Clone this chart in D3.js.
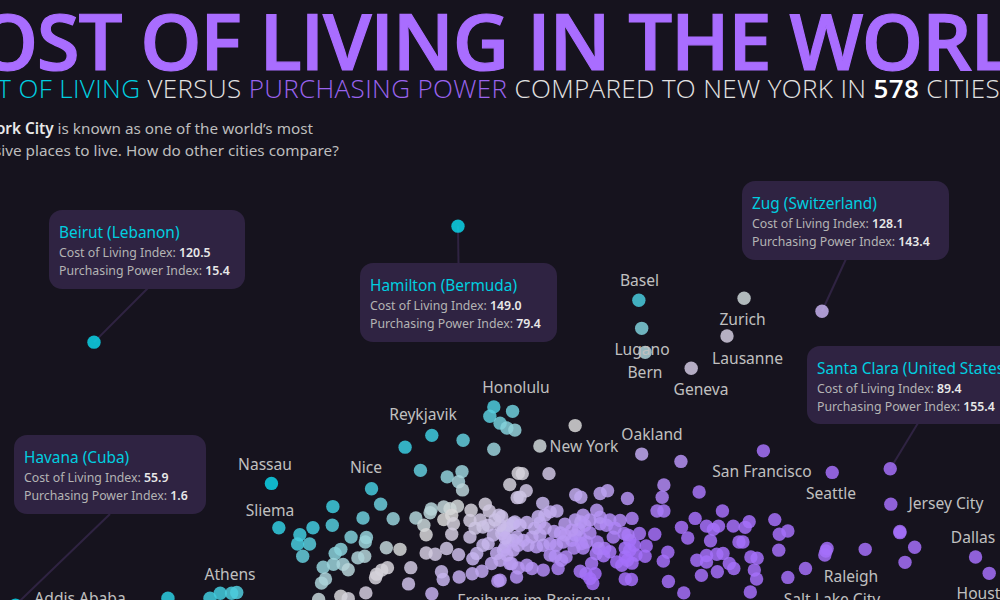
<!DOCTYPE html>
<html><head><meta charset="utf-8">
<script src="https://d3js.org/d3.v7.min.js"></script>
<style>html,body{margin:0;padding:0;background:#16131e;overflow:hidden}svg{display:block}</style>
</head><body><svg id="c" width="1000" height="600"></svg>
<script>
const purchasingPower=[85.7,89.0,85.0,86.8,88.0,89.4,74.8,80.3,70.1,85.7,72.8,80.1,77.5,79.5,80.2,88.5,90.0,89.8,64.2,65.8,57.4,62.7,68.0,57.3,53.9,72.0,74.7,74.5,73.4,73.8,76.9,79.3,78.0,76.9,78.3,81.7,84.2,84.9,86.6,81.5,83.3,78.6,78.3,81.5,84.7,83.8,77.4,79.5,75.4,73.8,60.6,63.3,63.1,58.8,57.8,51.6,53.3,51.2,52.1,47.9,66.8,69.2,63.0,61.8,55.7,57.5,59.2,60.1,56.1,55.4,67.0,66.0,65.1,64.9,71.1,70.7,63.2,58.8,60.1,54.9,76.5,76.8,79.6,81.9,83.6,86.4,85.3,86.8,82.0,82.7,74.8,88.5,89.7,90.0,88.0,89.1,87.1,85.6,84.7,83.8,88.2,89.7,86.2,87.4,
100.0,93.8,111.7,118.6,90.7,95.4,91.4,90.3,100.1,101.0,104.4,105.7,109.2,115.6,115.3,121.8,114.4,115.6,125.9,121.1,118.7,119.8,123.1,125.2,124.3,127.8,123.8,94.3,96.8,94.7,93.5,95.6,91.5,98.2,96.3,103.8,101.4,101.0,104.4,105.5,107.9,110.0,106.7,111.3,114.0,112.5,112.3,108.6,109.6,109.6,108.8,107.3,108.2,116.3,115.5,108.8,109.9,116.4,119.1,122.2,125.0,121.4,123.1,123.1,124.9,126.0,127.1,127.9,128.8,100.9,100.0,101.1,99.4,102.0,100.6,104.1,105.2,106.1,102.9,100.9,101.9,103.5,102.6,103.1,97.0,98.4,97.6,94.4,92.4,91.5,88.8,86.8,95.6,94.4,93.2,93.8,92.4,90.9,89.1,87.7,89.1,95.6,88.0,88.5,87.4,89.4,87.1,97.9,
133.1,145.2,155.5,157.1,157.1,135.1,130.6,129.9,137.4,135.9,159.7,129.5,144.3,143.9,144.1,151.0,135.8,170.4,158.0,130.9,132.0,131.5,131.9,140.5,137.4,172.8,130.8,
111.2,111.7,112.3,129.7,126.7,120.4,46.6,28.4,37.6,40.5,39.6,35.8,
100.0,101.7,99.4,102.6,101.4,99.8,104.4,106.1,102.6,107.0,103.9,105.0,103.7,109.3,110.4,108.8,110.7,110.0,109.2,90.3,92.9,93.8,90.0,87.7,91.7,96.7,97.4,94.7,86.8,85.9,82.4,98.2,96.5];
const costOfLiving=[104.6,103.5,102.3,100.6,99.4,98.9,97.6,96.4,94.7,94.2,89.0,88.7,87.4,86.2,84.2,85.5,88.3,82.3,84.5,80.7,80.1,77.3,77.1,75.5,74.9,77.3,79.5,78.6,75.5,73.2,80.0,80.2,79.6,76.9,78.0,79.2,80.7,79.0,78.0,76.7,76.8,75.9,73.3,72.6,75.5,75.1,69.8,68.3,68.4,68.7,72.6,72.5,71.4,69.6,68.6,73.2,70.9,70.9,67.9,74.9,70.0,69.6,67.9,67.5,65.2,65.9,65.9,64.6,62.3,61.3,65.1,64.5,63.5,62.6,65.1,61.1,58.9,58.1,57.5,57.3,64.1,62.2,62.8,63.6,64.2,61.8,66.1,66.9,67.3,68.6,58.7,66.1,62.8,65.0,74.8,76.0,73.5,73.1,71.0,70.6,71.8,72.6,68.6,69.4,
100.0,95.0,93.0,91.2,88.2,88.2,84.0,82.4,83.0,82.4,83.3,84.0,82.1,85.4,82.4,83.7,79.0,79.0,79.0,77.2,75.0,72.4,75.3,75.3,74.5,75.3,71.7,80.9,79.0,78.0,77.6,78.8,76.2,75.8,74.0,79.2,78.0,76.3,75.9,75.5,76.7,77.2,72.6,73.5,73.3,70.4,67.9,73.5,71.8,69.4,67.7,66.5,65.7,68.9,66.7,62.3,62.2,61.7,58.9,63.2,64.1,66.9,68.1,66.5,68.4,68.6,66.1,64.9,71.4,72.6,73.1,71.0,71.8,71.4,74.5,69.8,69.8,69.0,66.1,64.2,63.6,63.6,62.4,61.2,64.9,67.7,66.9,64.5,64.9,65.7,66.1,62.0,71.0,70.6,70.2,73.1,72.6,71.8,71.8,70.2,69.4,68.2,68.2,75.5,74.3,76.3,77.6,71.4,
93.8,88.5,80.7,74.0,73.7,76.9,76.4,75.0,74.1,73.3,70.1,71.4,69.8,68.2,69.2,69.6,69.4,67.7,66.4,67.7,67.4,64.5,62.3,64.9,62.7,63.7,59.1,
130.8,123.9,118.0,131.3,122.0,114.1,85.8,57.6,58.8,59.0,58.8,57.6,
76.8,75.5,74.3,73.6,69.9,69.9,77.5,76.8,76.8,74.8,71.4,68.0,68.5,73.1,70.6,69.9,68.2,66.2,66.9,75.5,74.8,76.1,70.6,72.4,70.6,70.6,73.6,74.8,75.5,76.8,74.8,73.1,67.9];
const calloutCities=["Beirut (Lebanon)","Hamilton (Bermuda)","Zug (Switzerland)","Santa Clara (United States)","Havana (Cuba)"];
const calloutCost=[120.5,149.0,128.1,89.4,55.9];
const calloutPower=[15.4,79.4,143.4,155.4,1.6];
const calloutBoxes=[[49,210,196,79,148,288],[360,263,197,79,458.5,263],[742,181,207,79,846,259],[807,346,260,78,918,423],[14,435,192,79,110,514]];
const labelNames=["Basel","Lugano","Bern","Zurich","Lausanne","Geneva","Honolulu","Reykjavik","New York","Oakland","San Francisco","Seattle","Jersey City","Dallas","Raleigh","Salt Lake City","Houston","Nassau","Nice","Sliema","Athens","Addis Ababa","Freiburg im Breisgau"];
const labelSpots=[[639.5,286],[642,355],[645,378],[742.5,325],[747.5,364],[701,395],[516,393],[423,420],[584,452],[652,440],[762,477],[831,499],[946,509],[973,543],[851,582],[832,605],[988,599],[265,470],[366,473],[270,516],[230,580],[80,604],[534,606]];

const x=d3.scaleLinear().domain([0,160]).range([6.4,916.4]);
const y=d3.scaleLinear().domain([160,30]).range([181.4,710.5]);
const color=d3.scaleLinear().domain([-40,-20,0,15,40]).range(["#0cd4e8","#46cbdd","#d8d8d8","#c5b3ee","#a470f9"]).clamp(true);
const svg=d3.select("#c");
const font="'Open Sans','Noto Sans',sans-serif";
const bodyFont="'Noto Sans','Open Sans',sans-serif";
svg.append("rect").attr("width",1000).attr("height",600).attr("fill","#16131e");

svg.append("text").attr("x",498).attr("y",70).attr("text-anchor","middle").attr("font-family",font).attr("font-weight",600).attr("font-size",78).attr("letter-spacing",-1.3).attr("fill","#a96dff").attr("stroke","#a96dff").attr("stroke-width",1.2).text("COST OF LIVING IN THE WORLD");
const sub=svg.append("text").attr("x",473).attr("y",98).attr("text-anchor","middle").attr("font-family",font).attr("font-weight",300).attr("font-size",26).attr("letter-spacing",0.36).attr("fill","#e2e2e2");
[["COST OF LIVING","#00cfe0",300],[" VERSUS ","#e2e2e2",300],["PURCHASING POWER","#9a63ee",300],[" COMPARED TO NEW YORK IN ","#e2e2e2",300],["578","#ffffff",600],[" CITIES","#e2e2e2",300]].forEach(d=>sub.append("tspan").attr("fill",d[1]).attr("font-weight",d[2]).attr("xml:space","preserve").style("white-space","pre").text(d[0]));
const intro=svg.append("text").attr("font-family",bodyFont).attr("font-size",15.3).attr("fill","#bdbdbd");
const l1=intro.append("tspan").attr("x",-50).attr("y",134);
l1.append("tspan").attr("font-weight",600).attr("fill","#e8e8e8").text("New York City");
l1.append("tspan").text(" is known as one of the world\u2019s most");
intro.append("tspan").attr("x",-50).attr("y",156).text("expensive places to live. How do other cities compare?");

const pts=purchasingPower.map((p,i)=>({p,c:costOfLiving[i]})).concat(calloutCities.map((n,i)=>({p:calloutPower[i],c:calloutCost[i]})));

const gCall=svg.append("g");
calloutCities.forEach((n,i)=>{
  const b=calloutBoxes[i];
  gCall.append("line").attr("x1",b[4]).attr("y1",b[5]).attr("x2",x(calloutPower[i])).attr("y2",y(calloutCost[i])).attr("stroke","#2f2342").attr("stroke-width",2);
});
svg.append("g").selectAll("circle").data(pts).join("circle")
  .attr("cx",d=>x(d.p)).attr("cy",d=>y(d.c)).attr("r",6.7)
  .attr("fill",d=>color(d.p-d.c)).attr("fill-opacity",0.85);
const gBox=svg.append("g");
calloutCities.forEach((n,i)=>{
  const b=calloutBoxes[i];
  gBox.append("rect").attr("x",b[0]).attr("y",b[1]).attr("width",b[2]).attr("height",b[3]).attr("rx",13).attr("fill","#2f2342");
  gBox.append("text").attr("x",b[0]+10).attr("y",b[1]+27.5).attr("font-family",bodyFont).attr("font-size",15.4).attr("fill","#00cfe0").text(n);
  const rows=[["Cost of Living Index: ",calloutCost[i]],["Purchasing Power Index: ",calloutPower[i]]];
  rows.forEach((r,k)=>{
    const t=gBox.append("text").attr("x",b[0]+10).attr("y",b[1]+47+k*18).attr("font-family",bodyFont).attr("font-size",12.3).attr("fill","#b4b4b4");
    t.append("tspan").text(r[0]);
    t.append("tspan").attr("font-weight",600).attr("fill","#e8e8e8").text(r[1].toFixed(1));
  });
});
svg.append("g").selectAll("text").data(labelNames).join("text")
  .attr("x",(d,i)=>labelSpots[i][0]).attr("y",(d,i)=>labelSpots[i][1])
  .attr("text-anchor","middle").attr("font-family",bodyFont).attr("font-size",15.6).attr("fill","#c0c0c0").text(d=>d);
</script></body></html>
